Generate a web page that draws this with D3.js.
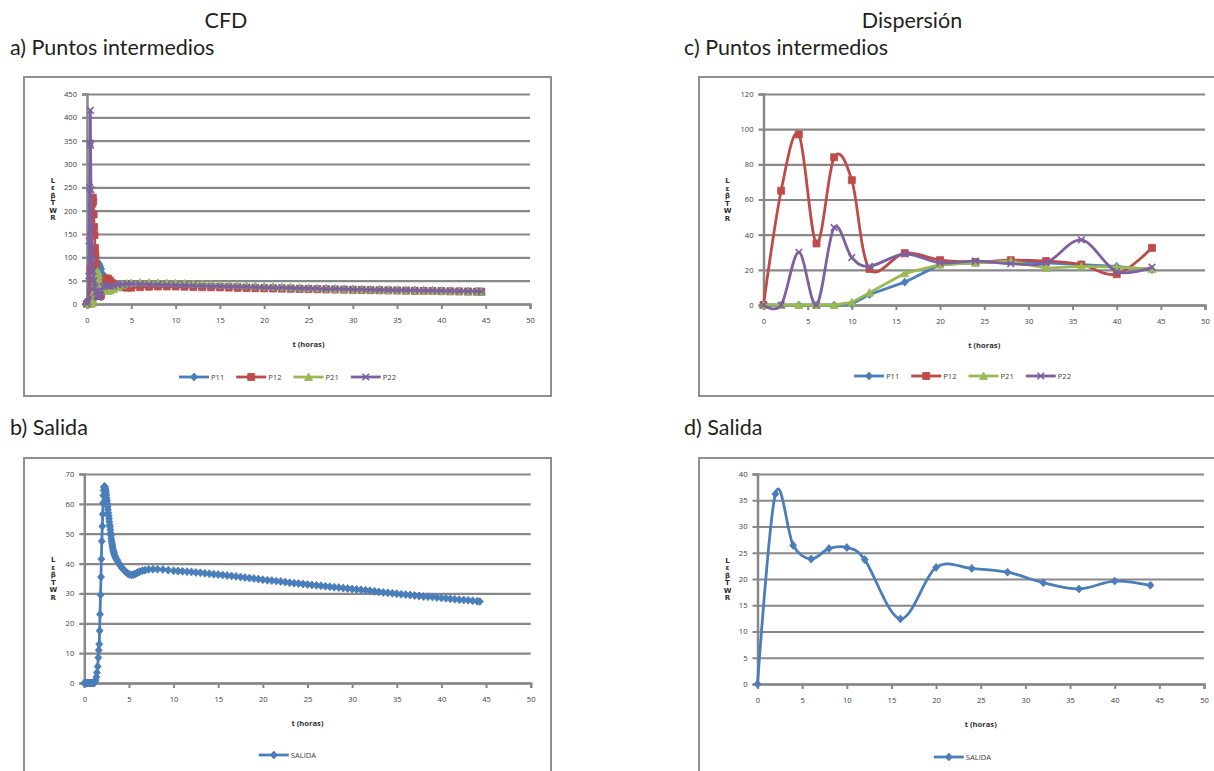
<!DOCTYPE html>
<html><head><meta charset="utf-8">
<script src="https://cdn.jsdelivr.net/npm/d3@7"></script>
<style>body{margin:0;background:#fff}svg{display:block}
.ylab{writing-mode:vertical-rl;text-orientation:upright;}
</style>
</head><body>
<svg id="c" width="1214" height="771"></svg>
<script>
// ---------------- DATA ----------------
const xTicks = [0,5,10,15,20,25,30,35,40,45,50];
const yTicksA = [0,50,100,150,200,250,300,350,400,450];
const yTicksB = [0,10,20,30,40,50,60,70];
const yTicksC = [0,20,40,60,80,100,120];
const yTicksD = [0,5,10,15,20,25,30,35,40];
const seriesNames = ["P11","P12","P21","P22"];
const outName = ["SALIDA"];
const yTitleGlyphs = "LεβTWR";

// CFD intermediate points: early part [t, value]
const cfdP11Early = [[0,0],[0.2,0],[0.4,1],[0.5,5],[0.6,15],[0.7,35],[0.8,55],[0.9,72],[1.0,84],[1.1,89],[1.2,90],[1.3,87],[1.4,84],[1.5,80],[1.6,75],[1.8,64],[2.0,52],[2.3,42],[2.6,37],[3.0,36],[3.5,38],[4.0,40],[4.5,41]];
const cfdP12Early = [[0,0],[0.2,0],[0.3,5],[0.4,75],[0.5,150],[0.6,215],[0.65,228],[0.7,220],[0.75,192],[0.8,165],[0.85,148],[0.9,120],[0.95,105],[1.0,85],[1.1,55],[1.2,35],[1.3,22],[1.4,18],[1.5,17],[1.6,20],[1.7,28],[1.8,40],[2.0,52],[2.2,55],[2.4,54],[2.6,50],[2.8,45],[3.0,42],[3.5,38],[4.0,36],[4.5,35]];
const cfdP21Early = [[0,0],[0.2,0],[0.4,0],[0.6,2],[0.7,8],[0.8,25],[0.9,45],[1.0,60],[1.1,68],[1.2,70],[1.3,62],[1.4,50],[1.5,42],[1.6,36],[1.8,32],[2.0,29],[2.3,28],[2.6,29],[3.0,32],[3.5,37],[4.0,41],[4.5,44]];
const cfdP22Early = [[0,0],[0.1,5],[0.2,60],[0.25,135],[0.3,250],[0.35,345],[0.38,415],[0.4,340],[0.45,245],[0.5,165],[0.55,120],[0.6,95],[0.7,70],[0.8,50],[0.9,35],[1.0,25],[1.1,18],[1.2,15],[1.3,14],[1.4,16],[1.5,20],[1.6,28],[1.8,37],[2.0,40],[2.3,39],[2.6,38],[3.0,39],[3.5,41],[4.0,42],[4.5,43]];
// CFD intermediate points: long tail (hours 5..44.5)
const cfdTailT = [5,6,7,8,9,10,11,12,13,14,15,16,17,18,19,20,21,22,23,24,25,26,27,28,29,30,31,32,33,34,35,36,37,38,39,40,41,42,43,44,44.5];
const cfdP11Tail = [43,43,42.5,42,41.5,41,40.5,40,39.5,39,38.5,38,37.5,37,36.5,36,35.6,35.2,34.8,34.3,33.8,33.4,33,32.6,32.3,32,31.6,31.2,30.9,30.5,30.2,29.9,29.5,29.2,28.9,28.6,28.3,28,27.7,27.4,27.2];
const cfdP12Tail = [35,36,37,37.5,37.5,37.5,37,36.5,36,35.8,35.5,35.2,34.5,34,33.8,33.5,33.2,33,32.6,32.2,31.8,31.5,31.2,30.9,30.6,30.3,30,29.6,29.3,29,28.8,28.5,28.2,28,27.7,27.4,27.1,26.8,26.5,26.3,26.2];
const cfdP21Tail = [45,46,46,45.5,45,44.5,44,43,42.5,42,41.5,41,40.5,39.5,38.5,37.5,36.8,36.2,35.6,35,34.3,33.6,33,32.5,32,31.6,31.3,31,30.6,30.2,29.8,29.4,29,28.6,28.3,28,27.7,27.4,27.1,26.8,26.6];
const cfdP22Tail = [43,42.5,42,41.5,41,40.5,40,39.5,39,38.5,38,37.5,37,36.5,36,35.5,35.2,34.9,34.5,34,33.4,33,32.6,32.2,31.8,31.5,31.2,30.8,30.5,30.1,29.8,29.5,29.2,28.9,28.6,28.3,28,27.7,27.4,27.1,27];

// CFD outlet [t, value]
const cfdSalida = [[0,0],[0.1,0],[0.2,0],[0.3,0],[0.4,0],[0.5,0],[0.6,0],[0.7,0],[0.8,0],[0.9,0],[1.0,0],[1.1,0],[1.2,0.3],[1.27,1],[1.35,2],[1.42,3.5],[1.5,5.5],[1.57,8.5],[1.62,11],[1.68,13],[1.72,17.5],[1.76,23],[1.82,29.5],[1.87,35.5],[1.91,41.5],[1.96,47.5],[2.02,52.5],[2.06,56.5],[2.1,60.3],[2.13,62.8],[2.17,64.5],[2.2,65.5],[2.24,65.8],[2.28,65.8],[2.32,65.5],[2.36,65],[2.4,64.5],[2.43,63.8],[2.47,63],[2.5,62],[2.54,61],[2.58,60],[2.62,59],[2.65,58],[2.69,57],[2.73,56],[2.77,55],[2.8,54],[2.84,53],[2.88,52.3],[2.92,51.3],[2.95,50.2],[2.99,49.3],[3.02,48.3],[3.06,47.5],[3.1,46.8],[3.13,46.2],[3.17,45.6],[3.2,45],[3.24,44.5],[3.28,44.1],[3.32,43.6],[3.35,43.2],[3.4,42.8],[3.46,42.3],[3.52,41.9],[3.61,41.4],[3.7,41],[3.8,40.4],[3.92,39.8],[4.06,39.2],[4.2,38.6],[4.36,38.1],[4.55,37.5],[4.73,37],[4.9,36.6],[5.1,36.3],[5.3,36.2],[5.5,36.3],[5.7,36.5],[5.85,36.8],[6.0,37],[6.2,37.3],[6.5,37.6],[6.8,37.8],[7.2,38],[7.7,38.1],[8.2,38.1],[8.8,38],[9.4,37.8],[10,37.6],
  [10.5,37.5],[11,37.4],[11.5,37.3],[12,37.2],[12.5,37.05],[13,36.9],[13.5,36.75],[14,36.6],[14.5,36.45],[15,36.3],[15.5,36.15],[16,36],[16.5,35.85],[17,35.7],[17.5,35.5],[18,35.3],[18.5,35.15],[19,35],[19.5,34.8],[20,34.6],[20.5,34.45],[21,34.3],[21.5,34.15],[22,34],[22.5,33.8],[23,33.6],[23.5,33.45],[24,33.3],[24.5,33.15],[25,33],[25.5,32.85],[26,32.7],[26.5,32.55],[27,32.4],[27.5,32.25],[28,32.1],[28.5,31.95],[29,31.8],[29.5,31.65],[30,31.5],[30.5,31.35],[31,31.2],[31.5,31.05],[32,30.9],[32.5,30.7],[33,30.5],[33.5,30.35],[34,30.2],[34.5,30.05],[35,29.9],[35.5,29.75],[36,29.6],[36.5,29.45],[37,29.3],[37.5,29.15],[38,29],[38.5,28.9],[39,28.8],[39.5,28.65],[40,28.5],[40.5,28.35],[41,28.2],[41.5,28.05],[42,27.9],[42.5,27.8],[43,27.7],[43.5,27.55],[44,27.4],[44.3,27.3]];

// Dispersion model
const dispT = [0,2,4,6,8,10,12,16,20,24,28,32,36,40,44];
const dispP11 = [0,0,0,0,0,0.5,6,13,23,24,25,24,23,22,20];
const dispP12 = [0,65,97,35,84,71,20.5,29.5,25.5,24.5,25.5,25,23,17.5,32.5];
const dispP21 = [0,0,0,0,0,1.5,7,18,23,24,25,21,22,21.5,20.5];
const dispP22 = [0,0,30,0,44,27,22,29,24,25,23.5,24,37,19,21.5];
const dispSalida = [0,36.2,26.4,23.8,25.8,26,23.7,12.4,22.2,22,21.3,19.3,18.1,19.6,18.8];

// ---------------- STYLE ----------------
const colors = {P11:"#4a7ebb", P12:"#be4b48", P21:"#98b954", P22:"#7d60a0", SALIDA:"#4a7ebb"};
const markerOf = {P11:"diamond", P12:"square", P21:"triangle", P22:"x", SALIDA:"diamond"};
const gridC = "#888888";
const tickFont = "'Open Sans', sans-serif";

const svg = d3.select("#c");

function markerPath(kind){
  if(kind==="diamond") return "M0,-4L3.5,0L0,4L-3.5,0Z";
  if(kind==="square") return "M-3.5,-3.5h7v7h-7Z";
  if(kind==="triangle") return "M0,-4L4,3.5L-4,3.5Z";
  return "M-3.3,-3.3L3.3,3.3M3.3,-3.3L-3.3,3.3";
}
function drawMarker(g, kind, color, x, y){
  const p = g.append("path").attr("d", markerPath(kind)).attr("transform",`translate(${x},${y})`);
  if(kind==="x") p.attr("fill","none").attr("stroke",color).attr("stroke-width",1.6);
  else p.attr("fill",color).attr("stroke",color).attr("stroke-width",0.8);
}

// headings
const head = svg.append("g").attr("font-family","Lato, 'Open Sans', sans-serif").attr("fill","#231f20");
head.append("text").attr("x",226).attr("y",28).attr("text-anchor","middle").attr("font-size",21.5).text("CFD");
head.append("text").attr("x",912).attr("y",28).attr("text-anchor","middle").attr("font-size",21.5).text("Dispersión");
head.append("text").attr("x",10).attr("y",55).attr("font-size",21.5).text("a) Puntos intermedios");
head.append("text").attr("x",684).attr("y",55).attr("font-size",21.5).text("c) Puntos intermedios");
head.append("text").attr("x",10).attr("y",435).attr("font-size",21.5).text("b) Salida");
head.append("text").attr("x",684).attr("y",435).attr("font-size",21.5).text("d) Salida");

function panel(cfg){
  const g = svg.append("g");
  g.append("rect").attr("x",cfg.box[0]).attr("y",cfg.box[1]).attr("width",cfg.box[2]).attr("height",cfg.box[3])
    .attr("fill","#fff").attr("stroke","#8f8f8f").attr("stroke-width",2);
  const x = d3.scaleLinear().domain([0,50]).range([cfg.l,cfg.r]);
  const y = d3.scaleLinear().domain([0,cfg.ymax]).range([cfg.b,cfg.t]);

  // y axis + gridlines
  const ya = g.append("g").attr("transform",`translate(${cfg.l},0)`)
    .call(d3.axisLeft(y).tickValues(cfg.yticks).tickSizeOuter(0).tickSize(5).tickPadding(5));
  ya.selectAll(".tick line").attr("x1",-5).attr("x2",cfg.r-cfg.l).attr("stroke",gridC).attr("stroke-width",2.2);
  ya.select(".domain").attr("stroke",gridC).attr("stroke-width",2.5);
  ya.selectAll("text").attr("font-family",tickFont).attr("font-size",7.6).attr("fill","#404040");

  // x axis
  const xa = g.append("g").attr("transform",`translate(0,${cfg.b})`)
    .call(d3.axisBottom(x).tickValues(xTicks).tickSizeOuter(0).tickSize(5).tickPadding(9));
  xa.selectAll(".tick line").attr("stroke",gridC).attr("stroke-width",2);
  xa.select(".domain").attr("stroke",gridC).attr("stroke-width",2.5);
  xa.selectAll("text").attr("font-family",tickFont).attr("font-size",7.6).attr("fill","#404040");

  // axis title
  g.append("text").attr("x",(cfg.l+cfg.r)/2).attr("y",cfg.b+42.5).attr("text-anchor","middle")
    .attr("font-family",tickFont).attr("font-weight","bold").attr("font-size",7.6).attr("fill","#303030").text("t (horas)");

  // garbled y title (stacked upright glyphs, as in the reference)
  const ym = (cfg.t+cfg.b)/2, yx = cfg.l-cfg.ylOff;
  g.append("text").attr("class","ylab").attr("x",yx).attr("y",ym).attr("text-anchor","middle")
    .attr("font-family","'DejaVu Sans', sans-serif").attr("font-size",7).attr("font-weight","bold")
    .attr("letter-spacing",-0.5).attr("fill","#303030").text(yTitleGlyphs);

  // series
  const sg = g.append("g");
  cfg.series.forEach(s=>{
    const line = d3.line().x(d=>x(d[0])).y(d=>y(d[1])).curve(s.smooth ? d3.curveCardinal.tension(0) : d3.curveLinear);
    sg.append("path").datum(s.data).attr("d",line).attr("fill","none").attr("stroke",colors[s.name])
      .attr("stroke-width",2.8).attr("stroke-linejoin","round");
    s.data.forEach(d=> drawMarker(sg, markerOf[s.name], colors[s.name], x(d[0]), y(d[1])));
  });

  // legend
  const lg = g.append("g").attr("font-family",tickFont).attr("font-size",7.6).attr("fill","#404040");
  const ly = cfg.b + cfg.legOff;
  const items = cfg.series.map(s=>{
    const t = lg.append("text").text(s.name);
    const w = t.node().getComputedTextLength();
    return {s, t, w};
  });
  const lineLen = 30, gap = 2, between = 12;
  const total = d3.sum(items, it=>lineLen+gap+it.w) + between*(items.length-1);
  let cx = (cfg.box[0] + cfg.boxRight)/2 - total/2;
  items.forEach(it=>{
    const c = colors[it.s.name];
    lg.append("line").attr("x1",cx).attr("x2",cx+lineLen).attr("y1",ly).attr("y2",ly).attr("stroke",c).attr("stroke-width",2.8);
    drawMarker(lg, markerOf[it.s.name], c, cx+lineLen/2, ly);
    it.t.attr("x",cx+lineLen+gap).attr("y",ly+2.8);
    cx += lineLen+gap+it.w+between;
  });
}

function pairs(ts, vs){ return ts.map((t,i)=>[t, vs[i]]); }

panel({box:[24,77,527,319], boxRight:551, l:87, r:530, t:94, b:304, ymax:450, yticks:yTicksA, ylOff:34, legOff:73,
  series:[
    {name:seriesNames[0], data: cfdP11Early.concat(pairs(cfdTailT,cfdP11Tail))},
    {name:seriesNames[1], data: cfdP12Early.concat(pairs(cfdTailT,cfdP12Tail))},
    {name:seriesNames[2], data: cfdP21Early.concat(pairs(cfdTailT,cfdP21Tail))},
    {name:seriesNames[3], data: cfdP22Early.concat(pairs(cfdTailT,cfdP22Tail))}
  ]});

panel({box:[699,77,540,319], boxRight:1226, l:763.5, r:1205, t:94, b:305, ymax:120, yticks:yTicksC, ylOff:36, legOff:71,
  series:[
    {name:seriesNames[0], data: pairs(dispT,dispP11), smooth:false},
    {name:seriesNames[1], data: pairs(dispT,dispP12), smooth:true},
    {name:seriesNames[2], data: pairs(dispT,dispP21), smooth:false},
    {name:seriesNames[3], data: pairs(dispT,dispP22), smooth:true}
  ]});

panel({box:[24,458,527,330], boxRight:551, l:84.3, r:530.7, t:474, b:683, ymax:70, yticks:yTicksB, ylOff:31, legOff:72,
  series:[{name:outName[0], data: cfdSalida}]});

panel({box:[699,458,540,330], boxRight:1226, l:757.5, r:1204, t:474, b:684, ymax:40, yticks:yTicksD, ylOff:30, legOff:73,
  series:[{name:outName[0], data: pairs(dispT,dispSalida), smooth:true}]});
</script>
</body></html>
